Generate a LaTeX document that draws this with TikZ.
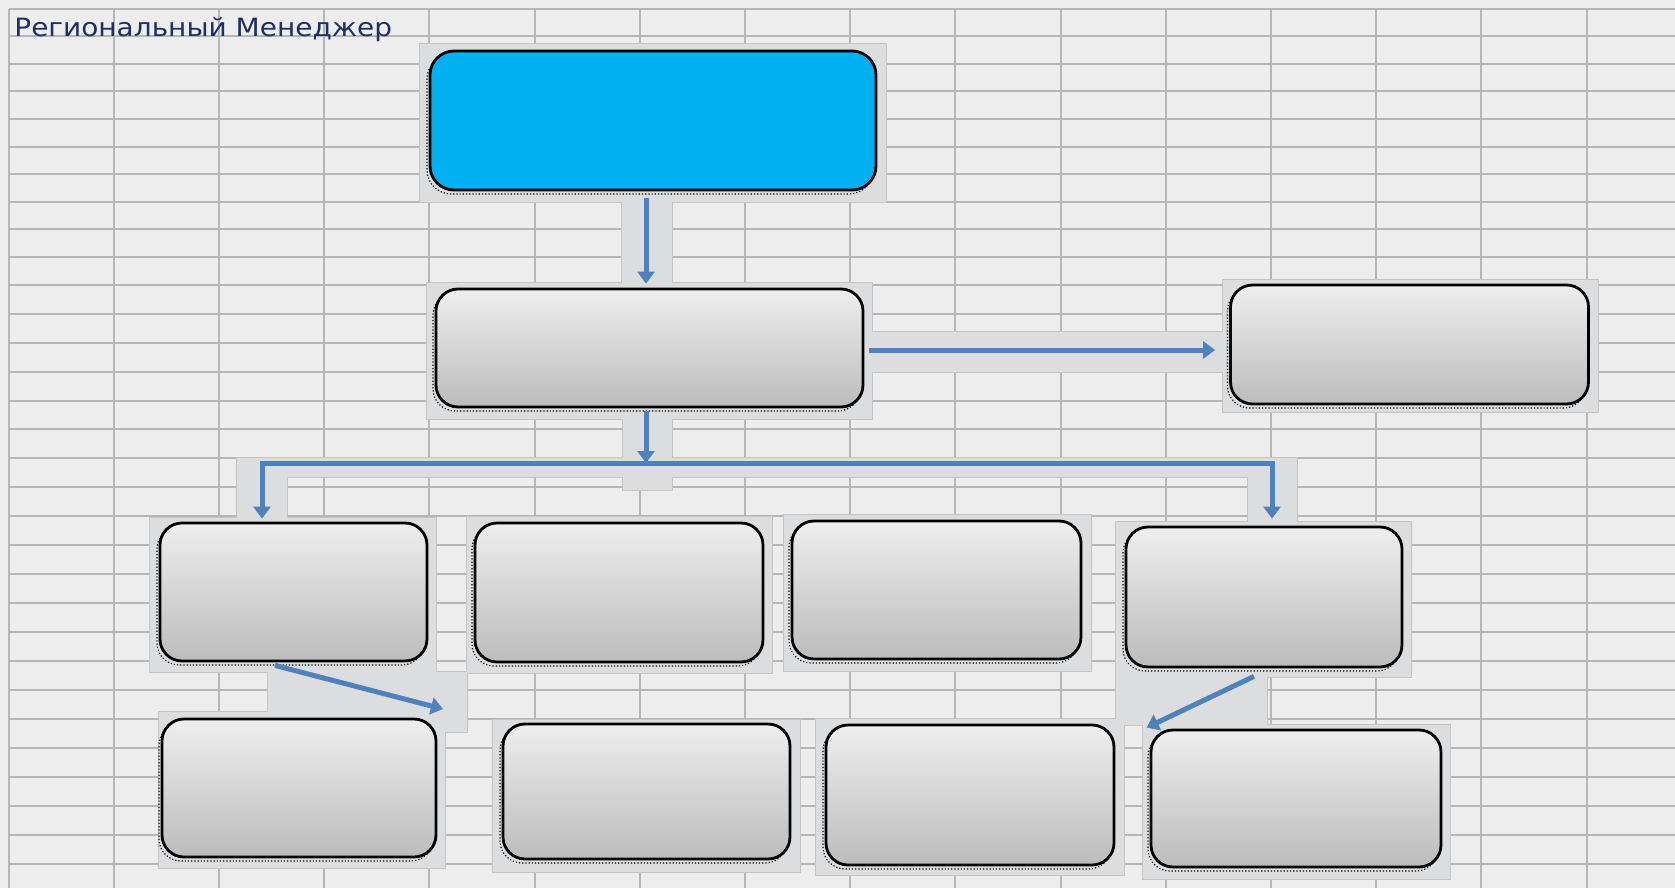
\documentclass[tikz,border=0pt]{standalone}
\usepackage{fontspec}
\newfontfamily\dejavu{DejaVu Sans}
\usetikzlibrary{arrows.meta,calc}
\definecolor{bg}{HTML}{EDEDED}
\definecolor{gridc}{HTML}{B6B6B6}
\definecolor{halo}{HTML}{DCDDDF}
\definecolor{haloedge}{HTML}{C4C4C4}
\definecolor{arrowc}{HTML}{4F81BD}
\definecolor{topblue}{HTML}{00B0F0}
\definecolor{titlec}{HTML}{1F2E63}
\definecolor{boxtop}{HTML}{EEEEEE}
\definecolor{boxbot}{HTML}{BCBCBC}
\tikzset{
  gridline/.style={draw=gridc, line width=1pt},
  dotshadow/.style={preaction={draw=black, densely dotted, line width=0.6pt, transform canvas={shift={(-1.5pt,-2pt)}}}},
  box/.style={dotshadow, draw=black, line width=1.4pt, rounded corners=11pt, top color=boxtop, bottom color=boxbot, inner sep=0pt},
  bluebox/.style={dotshadow, draw=black, line width=1.4pt, rounded corners=12pt, fill=topblue, inner sep=0pt},
  arr/.style={draw=arrowc, line width=2.5pt, -{Triangle[length=6pt,width=8.5pt]}},
  haloedge/.style={draw=haloedge, line width=1pt},
  halofill/.style={fill=halo}
}
\begin{document}
\begin{tikzpicture}[x=0.5pt,y=-0.5pt]
\useasboundingbox (0,0) rectangle (1675,888);
\fill[bg] (0,0) rectangle (1675,888);
% grid
\foreach \k in {0,...,15} \draw[gridline] ({8.5+105.2*\k},9) -- ({8.5+105.2*\k},888);
\foreach \y in {9,36.5,64,91.5,119,146.5,174,201.5,229,256.5,285,314,343,372,400.5,429,458,487,516,545,574,603,632,661,690,719,748,777,806,835,864}
  \draw[gridline] (8.5,\y) -- (1675,\y);
% halos: edges first, then fills on top
\foreach \st in {haloedge,halofill}{
  \path[\st] (420,44) rectangle (886,202);
  \path[\st] (622,202) rectangle (672,283);
  \path[\st] (427,283) rectangle (872,419);
  \path[\st] (872,332) rectangle (1223,372);
  \path[\st] (1223,280) rectangle (1598,412);
  \path[\st] (623,419) rectangle (672,490);
  \path[\st] (237,458) rectangle (1297,477);
  \path[\st] (237,458) rectangle (287,518);
  \path[\st] (1248,458) rectangle (1297,522);
  \path[\st] (150,518) rectangle (436,672);
  \path[\st] (467,517) rectangle (772,673);
  \path[\st] (784,515) rectangle (1091,671);
  \path[\st] (1116,522) rectangle (1411,677);
  \path[\st] (268,672) rectangle (467,732);
  \path[\st] (1116,677) rectangle (1267,725);
  \path[\st] (159,712) rectangle (445,868);
  \path[\st] (493,720) rectangle (800,872);
  \path[\st] (816,719) rectangle (1124,875);
  \path[\st] (1143,725) rectangle (1450,879);
}
% boxes
\node[bluebox, minimum width=223pt, minimum height=69.5pt] (top) at (653,120.5) {};
\node[box, minimum width=213.5pt, minimum height=59pt] (mid) at (649.5,348) {};
\node[box, minimum width=179pt, minimum height=59.5pt] (right) at (1409.5,344.5) {};
\node[box, minimum width=133.5pt, minimum height=69pt] (A) at (293.5,592) {};
\node[box, minimum width=144pt, minimum height=69.5pt] (B) at (619,592.5) {};
\node[box, minimum width=144.5pt, minimum height=69pt] (C) at (936.5,590) {};
\node[box, minimum width=138pt, minimum height=70pt] (D) at (1264,597) {};
\node[box, minimum width=137pt, minimum height=69pt] (E) at (299,788) {};
\node[box, minimum width=143.5pt, minimum height=67.5pt] (F) at (646.5,791.5) {};
\node[box, minimum width=144pt, minimum height=70pt] (G) at (970,795) {};
\node[box, minimum width=145pt, minimum height=68.5pt] (H) at (1296,798.5) {};
% connector helpers
\coordinate (ax) at (646,0);
\coordinate (ay) at (0,350);
\coordinate (lx) at (262,0);
\coordinate (rx) at (1272,0);
\coordinate (busc) at (646,463);
\coordinate (afend) at (443,709);
% connectors
\draw[arr, shorten <=3.5pt, shorten >=2pt] (top.south -| ax) -- (mid.north -| ax);
\draw[arr, shorten <=2.5pt, shorten >=7pt] (mid.east |- ay) -- (right.west |- ay);
\draw[arr, shorten <=1.5pt] (mid.south -| ax) -- (busc);
\draw[arr, shorten >=1.5pt] (busc) -| (A.north -| lx);
\draw[arr, shorten >=3.5pt] (busc) -| (D.north -| rx);
\draw[arr] ($(A.south)+(-18.5,3)$) -- (afend);
\draw[arr] ($(D.south)+(-10,8)$) -- ($(H.north west)+(-3,-1)$);
% title
\node[anchor=base west, inner sep=0pt, text=titlec, font=\dejavu\fontsize{12.6}{14}\selectfont] (title) at (14,37) {\scalebox{1.11}[1]{Региональный Менеджер}};
\end{tikzpicture}
\end{document}
